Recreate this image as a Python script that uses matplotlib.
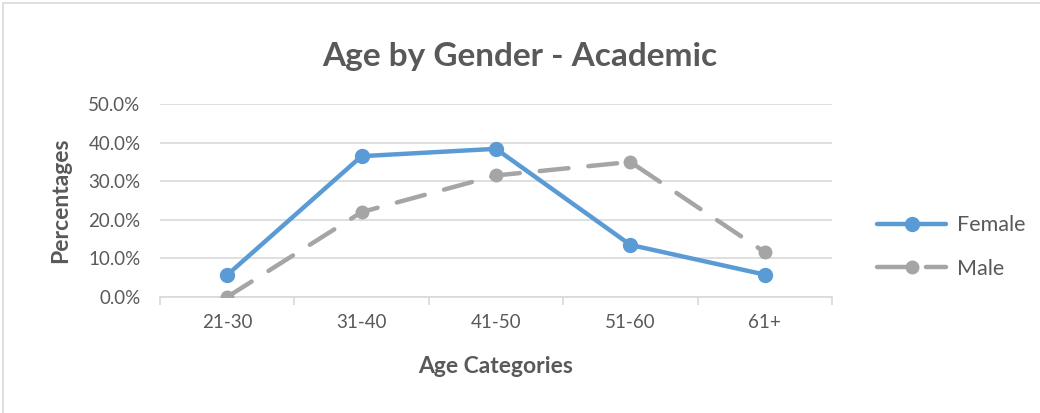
import matplotlib.pyplot as plt
from matplotlib.ticker import PercentFormatter, FixedLocator
from matplotlib.patches import Rectangle

categories = ['21-30', '31-40', '41-50', '51-60', '61+']
female = [5.7, 36.5, 38.4, 13.5, 5.8]
male = [0.0, 22.0, 31.5, 35.0, 11.6]

text_color = '#595959'
plt.rcParams['font.family'] = ['Lato', 'DejaVu Sans']

fig = plt.figure(figsize=(10.4, 4.13), dpi=100)
ax = fig.add_axes([0.1538, 0.2809, 0.8 - 0.1538, 0.748 - 0.2809])

# chart border
fig.patches.append(Rectangle((0.003, -0.01), 1.0, 1.003, transform=fig.transFigure,
                             fill=False, edgecolor='#d9d9d9', lw=1.2))

x = range(len(categories))
ax.plot(x, female, color='#5B9BD5', lw=3.2, marker='o', markersize=10,
        label='Female', zorder=4, solid_capstyle='round')
ax.plot(x, male, color='#A5A5A5', lw=3.2, marker='o', markersize=9,
        dashes=(6.5, 4.5), label='Male', zorder=3, dash_capstyle='round')

ax.set_xlim(-0.5, len(categories) - 0.5)
ax.set_ylim(0, 50)
ax.set_yticks([0, 10, 20, 30, 40, 50])
ax.yaxis.set_major_formatter(PercentFormatter(decimals=1))
ax.set_xticks(list(x))
ax.set_xticklabels(categories)
ax.xaxis.set_minor_locator(FixedLocator([i - 0.5 for i in range(len(categories) + 1)]))

ax.grid(axis='y', color='#d9d9d9', lw=1.2)
ax.set_axisbelow(True)
for s in ['top', 'right', 'left']:
    ax.spines[s].set_visible(False)
ax.spines['bottom'].set_color('#d9d9d9')
ax.spines['bottom'].set_linewidth(1.2)

ax.tick_params(axis='y', length=0, pad=14, labelsize=13.5, labelcolor=text_color)
ax.tick_params(axis='x', which='major', length=0, pad=12, labelsize=13.5, labelcolor=text_color)
ax.tick_params(axis='x', which='minor', length=6, width=1.2, color='#d9d9d9')

ax.set_xlabel('Age Categories', fontsize=16.5, fontweight='bold', color=text_color, labelpad=18)
ax.set_ylabel('Percentages', fontsize=16.5, fontweight='bold', color=text_color, labelpad=12)
fig.text(0.5, 0.862, 'Age by Gender - Academic', ha='center', va='center',
         fontsize=24, fontweight='bold', color=text_color)

leg = fig.legend(loc='center left', bbox_to_anchor=(0.825, 0.402), frameon=False,
                 fontsize=15.5, labelcolor=text_color, handlelength=3.2,
                 labelspacing=1.1, handletextpad=0.5)

fig.savefig('out.png', dpi=100)
